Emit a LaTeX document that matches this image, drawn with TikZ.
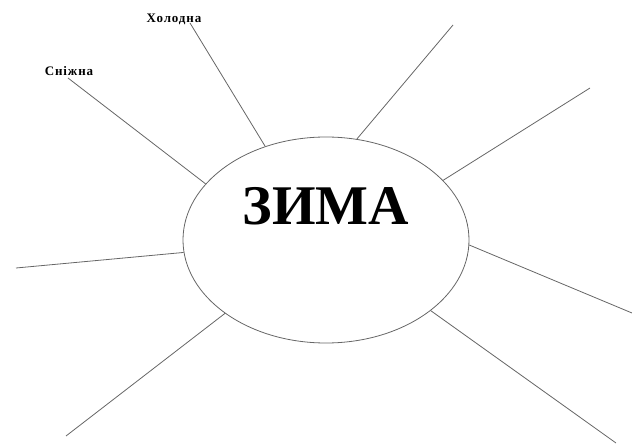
\documentclass[tikz,border=0pt]{standalone}
\usepackage{fontspec}
\setmainfont{Liberation Serif}
\usetikzlibrary{shapes.geometric}
\begin{document}
\begin{tikzpicture}[x=1pt,y=-1pt,
  ray/.style={draw=black!60,line width=0.8pt},
  hub/.style={ellipse,draw=black!60,line width=0.8pt,minimum width=286pt,minimum height=206pt,inner sep=0pt},
  lbl/.style={font=\bfseries\fontsize{13pt}{13pt}\selectfont\addfontfeature{LetterSpace=7},inner sep=0pt}]
\useasboundingbox (0,0) rectangle (632,446);
\node[hub] (zima) at (326,240) {};
\node[font=\bfseries\fontsize{56pt}{56pt}\selectfont,inner sep=0pt,anchor=base] (title) at (326,225) {ЗИМА};
\node[lbl,anchor=base] (holodna) at (174,23) {Холодна};
\node[lbl,anchor=base] (snizhna) at (69,76) {Сніжна};
\coordinate (o1) at (190,23);
\coordinate (o2) at (68,78);
\coordinate (o3) at (453,25);
\coordinate (o4) at (590,88);
\coordinate (o5) at (16,268);
\coordinate (o6) at (66,436);
\coordinate (o7) at (632,313);
\coordinate (o8) at (616,443);
\draw[ray] (o1) -- (zima.123.3);
\draw[ray] (o2) -- (zima.155.2);
\draw[ray] (o3) -- (zima.73.5);
\draw[ray] (o4) -- (zima.27.9);
\draw[ray] (o5) -- (zima.185.3);
\draw[ray] (o6) -- (zima.216);
\draw[ray] (o7) -- (zima.-2.4);
\draw[ray] (o8) -- (zima.-34);
\end{tikzpicture}
\end{document}
